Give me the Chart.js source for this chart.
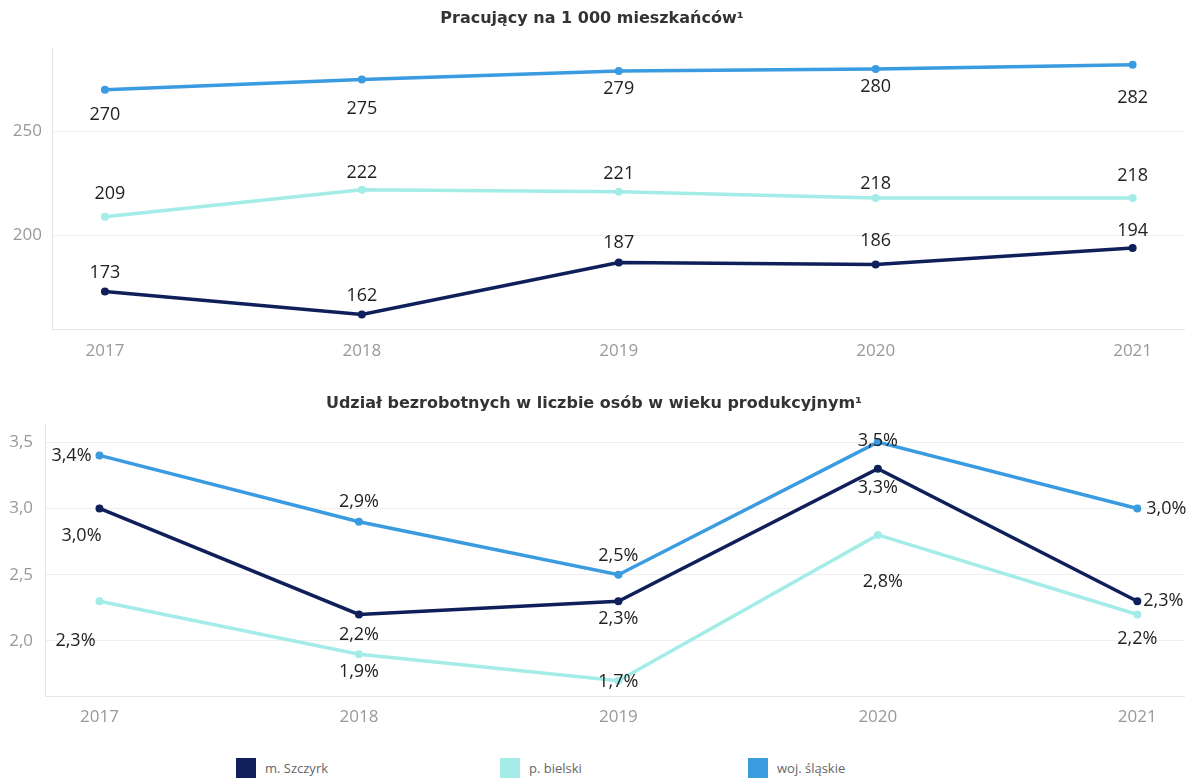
<!DOCTYPE html>
<html>
<head>
<meta charset="utf-8">
<script src="https://cdn.jsdelivr.net/npm/chart.js@4.4.0/dist/chart.umd.min.js"></script>
<style>
  body { margin: 0; background: #fff; font-family: "Open Sans", sans-serif; }
  #wrap { position: relative; width: 1188px; height: 780px; overflow: hidden; }
  .box { position: absolute; left: 0; width: 1188px; }
  #topBox { top: 0; height: 370px; }
  #bottomBox { top: 385px; height: 345px; }
  .item { position: absolute; top: 758px; display: flex; align-items: center; font-size: 13px; color: #666; }
  .sw { width: 20px; height: 20px; margin-right: 9px; }
</style>
</head>
<body>
<div id="wrap">
  <div class="box" id="topBox"><canvas id="chartTop"></canvas></div>
  <div class="box" id="bottomBox"><canvas id="chartBottom"></canvas></div>
  <div id="legend"></div>
</div>
<script>
// dane
const years = [2017, 2018, 2019, 2020, 2021];
const seriesNames = ['m. Szczyrk', 'p. bielski', 'woj. śląskie'];
const pracSzczyrk = [173, 162, 187, 186, 194];
const pracBielski = [209, 222, 221, 218, 218];
const pracSlaskie = [270, 275, 279, 280, 282];
const bezrSzczyrk = [3.0, 2.2, 2.3, 3.3, 2.3];
const bezrBielski = [2.3, 1.9, 1.7, 2.8, 2.2];
const bezrSlaskie = [3.4, 2.9, 2.5, 3.5, 3.0];
const pracTicks = [200, 250];
const bezrTicks = [2.0, 2.5, 3.0, 3.5];

const colors = ['#0f1f5a', '#a3ece8', '#3a9be0'];
const legendLeft = [236, 500, 748];

function pts(vals) {
  return vals.map((v, i) => ({ x: years[i], y: v }));
}

function pl(v) {
  return v.toFixed(1).replace('.', ',');
}

// etykiety przy punktach
function makeLabels(format) {
  return {
    id: 'pointLabels',
    afterDatasetsDraw(chart) {
      const ctx = chart.ctx;
      ctx.save();
      ctx.font = '18px "Open Sans"';
      ctx.fillStyle = '#222';
      ctx.textAlign = 'center';
      ctx.textBaseline = 'middle';
      chart.data.datasets.forEach((ds, i) => {
        chart.getDatasetMeta(i).data.forEach((p, j) => {
          const off = ds.labelOffsets[j];
          ctx.fillText(format(ds.data[j].y), p.x + off[0], p.y + off[1]);
        });
      });
      ctx.restore();
    }
  };
}

function line(label, vals, color, offsets) {
  return {
    label: label,
    data: pts(vals),
    borderColor: color,
    backgroundColor: color,
    borderWidth: 3.5,
    pointRadius: 4,
    pointBorderWidth: 0,
    pointBackgroundColor: color,
    tension: 0,
    clip: false,
    labelOffsets: offsets
  };
}

function axes(o) {
  return {
    x: {
      type: 'linear',
      min: o.xMin,
      max: o.xMax,
      afterBuildTicks: s => { s.ticks = years.map(v => ({ value: v })); },
      afterFit: s => { s.height = o.xH; },
      grid: { display: false, drawTicks: false },
      border: { color: '#e6e6e6' },
      ticks: { color: '#999', font: { size: 17, family: 'Open Sans' }, padding: o.xPad, callback: v => String(v) }
    },
    y: {
      min: o.yMin,
      max: o.yMax,
      afterBuildTicks: s => { s.ticks = o.ticks.map(v => ({ value: v })); },
      afterFit: s => { s.width = o.yW; },
      grid: { color: '#eeeeee', drawTicks: false },
      border: { color: '#e6e6e6' },
      ticks: { color: '#999', font: { size: 17, family: 'Open Sans' }, padding: o.yPad, callback: o.fmt }
    }
  };
}

const titleFont = { size: 16, weight: 'bold', family: 'DejaVu Sans' };

new Chart(document.getElementById('chartTop'), {
  type: 'line',
  data: {
    datasets: [
      line(seriesNames[0], pracSzczyrk, colors[0], [[0, -19], [0, -19], [0, -20], [0, -24], [0, -17]]),
      line(seriesNames[1], pracBielski, colors[1], [[5, -23], [0, -17], [0, -18], [0, -14], [0, -22]]),
      line(seriesNames[2], pracSlaskie, colors[2], [[0, 25], [0, 29], [0, 18], [0, 18], [0, 33]])
    ]
  },
  options: {
    responsive: true,
    maintainAspectRatio: false,
    animation: false,
    layout: { padding: { left: 0, right: 4, top: 0, bottom: 0 } },
    plugins: {
      legend: { display: false },
      tooltip: { enabled: false },
      title: {
        display: true,
        text: 'Pracujący na 1 000 mieszkańców¹',
        color: '#333',
        font: titleFont,
        padding: { top: 9, bottom: 20 }
      }
    },
    scales: axes({ xMin: 2016.794, xMax: 2021.2, xH: 41, xPad: 12, yMin: 155, yMax: 290, yW: 52, yPad: 10, ticks: pracTicks, fmt: v => String(v) })
  },
  plugins: [makeLabels(v => String(v))]
});

new Chart(document.getElementById('chartBottom'), {
  type: 'line',
  data: {
    datasets: [
      line(seriesNames[0], bezrSzczyrk, colors[0], [[-18, 27], [0, 20], [0, 18], [0, 19], [26, 0]]),
      line(seriesNames[1], bezrBielski, colors[1], [[-24, 40], [0, 18], [0, 1], [5, 47], [0, 24]]),
      line(seriesNames[2], bezrSlaskie, colors[2], [[-28, 0], [0, -20], [0, -19], [0, -1], [29, 0]])
    ]
  },
  options: {
    responsive: true,
    maintainAspectRatio: false,
    animation: false,
    layout: { padding: { left: 0, right: 0, top: 0, bottom: 0 } },
    plugins: {
      legend: { display: false },
      tooltip: { enabled: false },
      title: {
        display: true,
        text: 'Udział bezrobotnych w liczbie osób w wieku produkcyjnym¹',
        color: '#333',
        font: titleFont,
        padding: { top: 9, bottom: 10 }
      }
    },
    scales: axes({ xMin: 2016.79, xMax: 2021.18, xH: 34, xPad: 11, yMin: 1.585, yMax: 3.643, yW: 45, yPad: 12, ticks: bezrTicks, fmt: v => pl(v) })
  },
  plugins: [makeLabels(v => pl(v) + '%')]
});

// legenda
const legend = document.getElementById('legend');
seriesNames.forEach((name, i) => {
  const item = document.createElement('div');
  item.className = 'item';
  item.style.left = legendLeft[i] + 'px';
  item.innerHTML = '<span class="sw" style="background:' + colors[i] + '"></span>' + name;
  legend.appendChild(item);
});
</script>
</body>
</html>
